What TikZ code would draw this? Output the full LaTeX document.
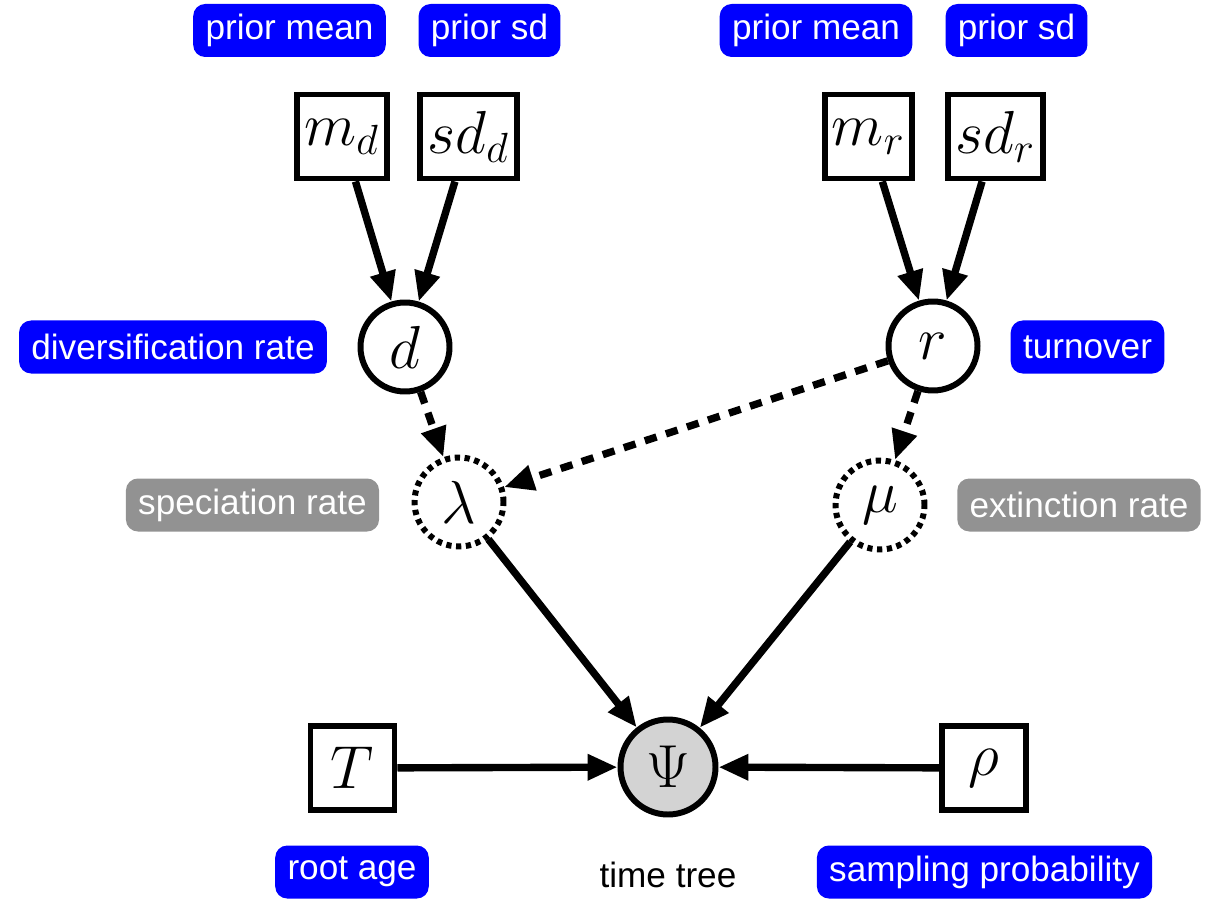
\documentclass[tikz,border=0pt]{standalone}
\usepackage{fontspec}
\setsansfont{Liberation Sans}
\usetikzlibrary{arrows.meta, positioning}
\definecolor{labelblue}{RGB}{0,0,255}
\definecolor{labelgray}{RGB}{146,146,146}
\definecolor{psifill}{RGB}{211,211,211}

\begin{document}
\begin{tikzpicture}[
    line width=1.7pt,
    const/.style={draw, rectangle, minimum width=0.84cm, minimum height=0.84cm, inner xsep=2pt, font=\LARGE},
    stoch/.style={draw, circle, minimum size=0.89cm, inner sep=0pt, font=\LARGE},
    determ/.style={stoch, dash pattern=on 1.5pt off 1.3pt},
    clamped/.style={stoch, fill=psifill, minimum size=0.95cm},
    tag/.style={rectangle, rounded corners=0.12cm, text=white, font=\sffamily\fontsize{10}{12}\selectfont, minimum height=0.53cm, inner xsep=3.5pt, inner ysep=0pt},
    bluetag/.style={tag, fill=labelblue},
    graytag/.style={tag, fill=labelgray},
    arrow/.style={line width=2.1pt, -{Triangle[length=8.5pt, width=7pt]}},
    darrow/.style={arrow, dash pattern=on 3.5pt off 2.8pt}
]
\useasboundingbox (0,0) rectangle (12.18,9);

% hyperpriors
\node[const] (md) at (3.42,7.635) {$m_d$};
\node[const] (sdd) at (4.685,7.635) {$sd_d$};
\node[const] (mr) at (8.685,7.635) {$m_r$};
\node[const] (sdr) at (9.955,7.635) {$sd_r$};

% rates
\node[stoch] (d) at (4.05,5.53) {$d$};
\node[stoch] (r) at (9.33,5.54) {$r$};
\node[determ] (lambda) at (4.59,3.98) {$\lambda$};
\node[determ] (mu) at (8.80,3.95) {$\mu$};

% tree
\node[clamped] (psi) at (6.68,1.33) {$\Psi$};
\node[const] (T) at (3.525,1.32) {$T$};
\node[const] (rho) at (9.84,1.32) {$\rho$};

% labels
\node[bluetag] (pm1) at (2.895,8.695) {prior mean};
\node[bluetag] (ps1) at (4.895,8.695) {prior sd};
\node[bluetag] (pm2) at (8.16,8.695) {prior mean};
\node[bluetag] (ps2) at (10.165,8.695) {prior sd};
\node[bluetag] (divlab) at (1.73,5.53) {diversification rate};
\node[bluetag] (turnlab) at (10.875,5.53) {turnover};
\node[graytag] (speclab) at (2.525,3.95) {speciation rate};
\node[graytag] (extlab) at (10.79,3.95) {extinction rate};
\node[bluetag] (agelab) at (3.52,0.28) {root age};
\node[font=\sffamily\fontsize{10}{12}\selectfont, inner sep=0pt] (treelab) at (6.68,0.25) {time tree};
\node[bluetag] (rholab) at (9.845,0.28) {sampling probability};

\draw[arrow] (md) -- (d);
\draw[arrow] (sdd) -- (d);
\draw[arrow] (mr) -- (r);
\draw[arrow] (sdr) -- (r);

\draw[darrow] (d) -- (lambda);
\draw[darrow] (r) -- (lambda);
\draw[darrow] (r) -- (mu);

\draw[arrow] (lambda) -- (psi);
\draw[arrow] (mu) -- (psi);
\draw[arrow] (T) -- (psi);
\draw[arrow] (rho) -- (psi);

\end{tikzpicture}
\end{document}
